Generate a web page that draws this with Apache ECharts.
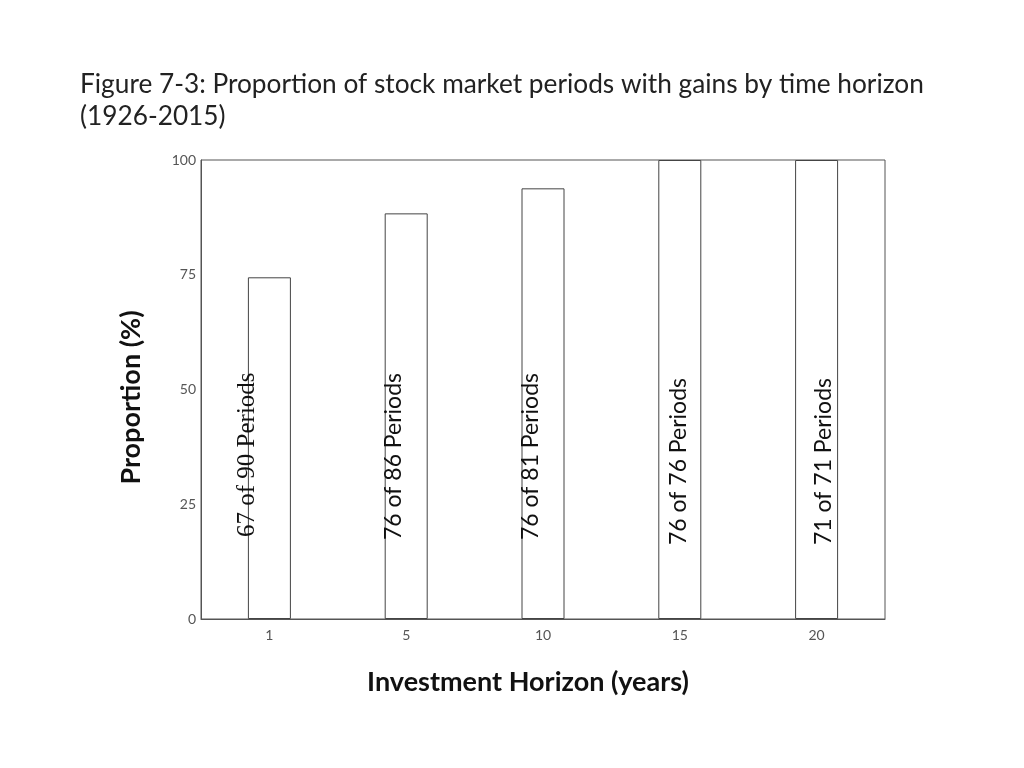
<!DOCTYPE html>
<html lang="en">
<head>
    <meta charset="UTF-8">
    <title>Figure 7-3</title>
    <script src="https://cdn.jsdelivr.net/npm/echarts@6/dist/echarts.min.js"></script>
    <style>
        html, body {
            margin: 0;
            height: 100%;
            background: #fff;
        }
    </style>
</head>
<body>
<div id="main" style="width: 1024px;height: 768px"></div>
</body>
</html>
<script>

    // data
    var horizons = ['1', '5', '10', '15', '20'];
    var gains = [67, 76, 76, 76, 71];
    var periods = [90, 86, 81, 76, 71];
    var yTicks = [0, 25, 50, 75, 100];

    // proportion of periods with gains, in percent
    var proportion = gains.map(function (g, i) {
        return g / periods[i] * 100;
    });

    // label placement tweaks (px): sideways from bar centre, up from the axis
    var labelShift = [-22, -13, -12, -1, 7];
    var labelLift = [82, 79, 79, 74, 74];
    var labelFont = ['Liberation Serif', 'Lato', 'Lato', 'Lato', 'Lato'];
    var labelSize = [25, 23, 23, 23, 23];

    var myChart = echarts.init(document.getElementById('main'));

    var option = {
        animation: false,
        backgroundColor: '#fff',
        title: {
            text: 'Figure 7-3: Proportion of stock market periods with gains by time horizon\n(1926-2015)',
            left: 75,
            top: 64,
            textStyle: {
                fontFamily: 'Lato',
                fontSize: 26.25,
                fontWeight: 'normal',
                color: '#222',
                lineHeight: 32
            }
        },
        grid: {
            left: 201,
            right: 139,
            top: 160,
            bottom: 149,
            show: true,
            borderColor: '#555',
            borderWidth: 1
        },
        xAxis: {
            type: 'category',
            data: horizons,
            name: 'Investment Horizon (years)',
            nameLocation: 'middle',
            nameGap: 50,
            nameTextStyle: {
                fontFamily: 'Lato',
                fontSize: 27,
                fontWeight: 'bold',
                color: '#111',
                padding: [0, 30, 0, 0]
            },
            axisLine: {lineStyle: {color: '#555'}},
            axisTick: {show: false},
            axisLabel: {fontFamily: 'Lato', fontSize: 14, color: '#555', margin: 9}
        },
        yAxis: {
            type: 'value',
            min: yTicks[0],
            max: yTicks[yTicks.length - 1],
            interval: 25,
            name: 'Proportion (%)',
            nameLocation: 'middle',
            nameGap: 56,
            nameTextStyle: {
                fontFamily: 'Lato',
                fontSize: 27,
                fontWeight: 'bold',
                color: '#111',
                padding: [0, 16, 0, 0]
            },
            axisLine: {show: true, lineStyle: {color: '#555'}},
            axisTick: {show: false},
            splitLine: {show: false},
            axisLabel: {fontFamily: 'Lato', fontSize: 14, color: '#555', margin: 5}
        },
        series: [{
            type: 'bar',
            barWidth: 43,
            data: proportion.map(function (v, i) {
                return {
                    value: v,
                    // offset is taken in the rotated frame: [along text, across text]
                    label: {
                        offset: [labelLift[i], labelShift[i]],
                        fontFamily: labelFont[i],
                        fontSize: labelSize[i]
                    }
                };
            }),
            itemStyle: {
                color: '#fff',
                borderColor: '#444',
                borderWidth: 1
            },
            label: {
                show: true,
                position: 'insideBottom',
                distance: 0,
                rotate: 90,
                align: 'left',
                verticalAlign: 'middle',
                color: '#111',
                formatter: function (p) {
                    return gains[p.dataIndex] + ' of ' + periods[p.dataIndex] + ' Periods';
                }
            }
        }]
    };

    myChart.setOption(option);

</script>
